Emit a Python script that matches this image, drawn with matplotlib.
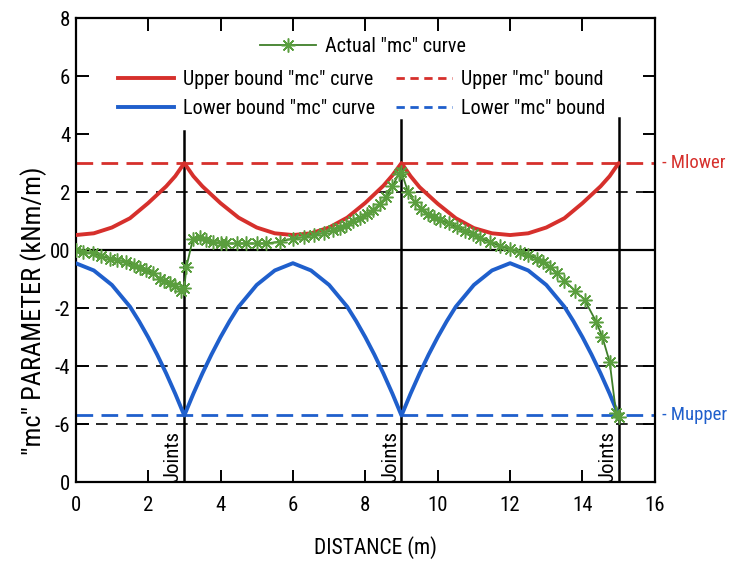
import matplotlib.pyplot as plt

plt.rcParams['font.family'] = ['Roboto Condensed', 'Liberation Sans', 'DejaVu Sans']

# upper bound "mc" curve (red)
x_up = [0, 0.5, 1, 1.5, 2, 2.5, 2.75, 3, 3.25, 3.5, 4, 4.5, 5, 5.5, 6,
        6.5, 7, 7.5, 8, 8.5, 8.75, 9, 9.25, 9.5, 10, 10.5, 11, 11.5, 12,
        12.5, 13, 13.5, 14, 14.5, 14.75, 15]
y_up = [0.52, 0.58, 0.78, 1.1, 1.62, 2.2, 2.55, 3.0, 2.55, 2.2, 1.62, 1.12, 0.78, 0.58, 0.52,
        0.58, 0.78, 1.12, 1.63, 2.22, 2.58, 3.0, 2.55, 2.17, 1.6, 1.1, 0.76, 0.58, 0.52,
        0.58, 0.78, 1.1, 1.62, 2.2, 2.55, 3.0]

# lower bound "mc" curve (blue)
x_lo = [0, 0.5, 1, 1.5, 1.75, 2, 2.25, 2.5, 2.75, 3, 3.25, 3.5, 3.75, 4, 4.25, 4.5, 5, 5.5, 6,
        6.5, 7, 7.5, 7.75, 8, 8.25, 8.5, 8.75, 9, 9.25, 9.5, 9.75, 10, 10.25, 10.5, 11, 11.5, 12,
        12.5, 13, 13.5, 13.75, 14, 14.25, 14.5, 14.75, 15]
y_lo = [-0.45, -0.7, -1.2, -1.95, -2.45, -3.0, -3.6, -4.25, -4.95, -5.7, -4.95, -4.25, -3.6, -3.0, -2.45, -1.95, -1.2, -0.7, -0.45,
        -0.7, -1.2, -1.95, -2.45, -3.0, -3.6, -4.25, -4.95, -5.7, -4.95, -4.25, -3.6, -3.0, -2.45, -1.95, -1.2, -0.7, -0.45,
        -0.7, -1.2, -1.95, -2.45, -3.0, -3.6, -4.25, -4.95, -5.7]

# actual "mc" curve (green)
x_act = [0.0, 0.2, 0.48, 0.7, 0.94, 1.15, 1.4, 1.6, 1.77, 1.95, 2.14, 2.32, 2.45, 2.6, 2.75, 2.92, 3.0,
         3.06, 3.24, 3.42, 3.6, 3.79, 4.0, 4.16, 4.45, 4.7, 5.0, 5.26, 5.63, 6.0, 6.3, 6.57, 6.85,
         7.12, 7.3, 7.48, 7.65, 7.85, 8.05, 8.21, 8.4, 8.58, 8.75, 8.93, 9.0, 9.18, 9.36, 9.55, 9.73,
         9.9, 10.06, 10.3, 10.52, 10.75, 10.97, 11.16, 11.45, 11.71, 12.0, 12.27, 12.5, 12.73, 12.9,
         13.1, 13.3, 13.5, 13.8, 14.06, 14.38, 14.55, 14.75, 14.93, 15.0]
y_act = [0.0, -0.05, -0.11, -0.2, -0.29, -0.33, -0.4, -0.52, -0.63, -0.7, -0.8, -0.98, -1.05, -1.15, -1.25, -1.4, -1.3,
         -0.57, 0.4, 0.44, 0.35, 0.29, 0.25, 0.23, 0.23, 0.23, 0.23, 0.23, 0.29, 0.4, 0.45, 0.52, 0.6,
         0.69, 0.78, 0.86, 1.0, 1.12, 1.25, 1.38, 1.6, 1.84, 2.2, 2.64, 2.7, 2.0, 1.67, 1.42, 1.26,
         1.15, 1.05, 0.92, 0.8, 0.67, 0.57, 0.42, 0.28, 0.15, 0.03, -0.06, -0.17, -0.29, -0.42,
         -0.57, -0.8, -1.05, -1.4, -1.72, -2.47, -3.0, -3.85, -5.63, -5.75]

m_lower = 3.0
m_upper = -5.7
joints = [3, 9, 15]
joint_tops = [4.1, 4.5, 4.55]
grid_levels = [2, -2, -4, -6]

yticks = [-8, -6, -4, -2, 0, 2, 4, 6, 8]
ytick_labels = ['0', '-6', '-4', '-2', '00', '2', '4', '6', '8']
xticks = [0, 2, 4, 6, 8, 10, 12, 14, 16]

red = '#d6302c'
blue = '#1f5fcc'
green_line = '#3f7f2a'
green_mark = '#5a9e3e'
star = (8, 2, 0)

fig = plt.figure(figsize=(7.35, 5.64), dpi=100)
ax = fig.add_axes([0.103, 0.145, 0.788, 0.823])

for g in grid_levels:
    ax.axhline(g, color='black', lw=1.2, ls=(0, (7, 5)), zorder=1)
ax.axhline(0, color='black', lw=1.6, zorder=2)

ax.axhline(m_lower, color=red, lw=2.0, ls=(0, (6, 3)), zorder=2)
ax.axhline(m_upper, color=blue, lw=2.0, ls=(0, (6, 3)), zorder=2)

for xj, top in zip(joints, joint_tops):
    ax.plot([xj, xj], [-8, top], color='black', lw=1.8, zorder=3)
    ax.text(xj - 0.04, -8, 'Joints', rotation=90, ha='right', va='bottom', fontsize=15)

ax.plot(x_up, y_up, color=red, lw=2.8, zorder=4, solid_capstyle='round')
ax.plot(x_lo, y_lo, color=blue, lw=2.8, zorder=4, solid_capstyle='round')
ax.plot(x_act, y_act, color=green_line, lw=1.3, marker=star, ms=10, mew=1.1,
        mfc=green_mark, mec=green_mark, zorder=5)

ax.set_xlim(0, 16)
ax.set_ylim(-8, 8)
ax.set_xticks(xticks)
ax.set_yticks(yticks)
ax.set_yticklabels(ytick_labels)
ax.tick_params(direction='in', length=9, width=1.4, labelsize=15,
               top=True, right=True, labeltop=False, labelright=False)
ax.tick_params(axis='x', pad=10)
ax.tick_params(axis='y', pad=4)
for s in ax.spines.values():
    s.set_linewidth(1.6)

ax.set_xlabel('DISTANCE (m)', fontsize=15.5)
ax.set_ylabel('"mc" PARAMETER (kNm/m)', fontsize=19)
ax.xaxis.set_label_coords(0.518, -0.115)
ax.yaxis.set_label_coords(-0.05, 0.37)

# legends
h_act, = ax.plot([], [], color=green_line, lw=1.3, marker=star, ms=10, mew=1.1, mfc=green_mark, mec=green_mark)
h_upc, = ax.plot([], [], color=red, lw=2.8)
h_loc, = ax.plot([], [], color=blue, lw=2.8)
h_upb, = ax.plot([], [], color=red, lw=2.0, ls=(0, (3, 2)))
h_lob, = ax.plot([], [], color=blue, lw=2.0, ls=(0, (3, 2)))

leg1 = ax.legend([h_act], ['Actual "mc" curve'], loc='upper left', bbox_to_anchor=(0.318, 0.96),
                 frameon=False, fontsize=14.5, borderpad=0, borderaxespad=0,
                 handlelength=2.8, handletextpad=0.45, numpoints=1)
ax.add_artist(leg1)
ax.legend([h_upc, h_loc, h_upb, h_lob],
          ['Upper bound "mc" curve', 'Lower bound "mc" curve', 'Upper "mc" bound', 'Lower "mc" bound'],
          loc='upper left', bbox_to_anchor=(0.073, 0.888), ncol=2, frameon=False, fontsize=14.5,
          borderpad=0, borderaxespad=0, handlelength=2.8, handletextpad=0.45,
          labelspacing=0.5, columnspacing=1.0)

ax.text(1.012, m_lower, '- Mlower', transform=ax.get_yaxis_transform(), color=red,
        fontsize=13.5, va='center', ha='left', clip_on=False)
ax.text(1.012, m_upper, '- Mupper', transform=ax.get_yaxis_transform(), color=blue,
        fontsize=13.5, va='center', ha='left', clip_on=False)

fig.savefig('out.png', dpi=100)
